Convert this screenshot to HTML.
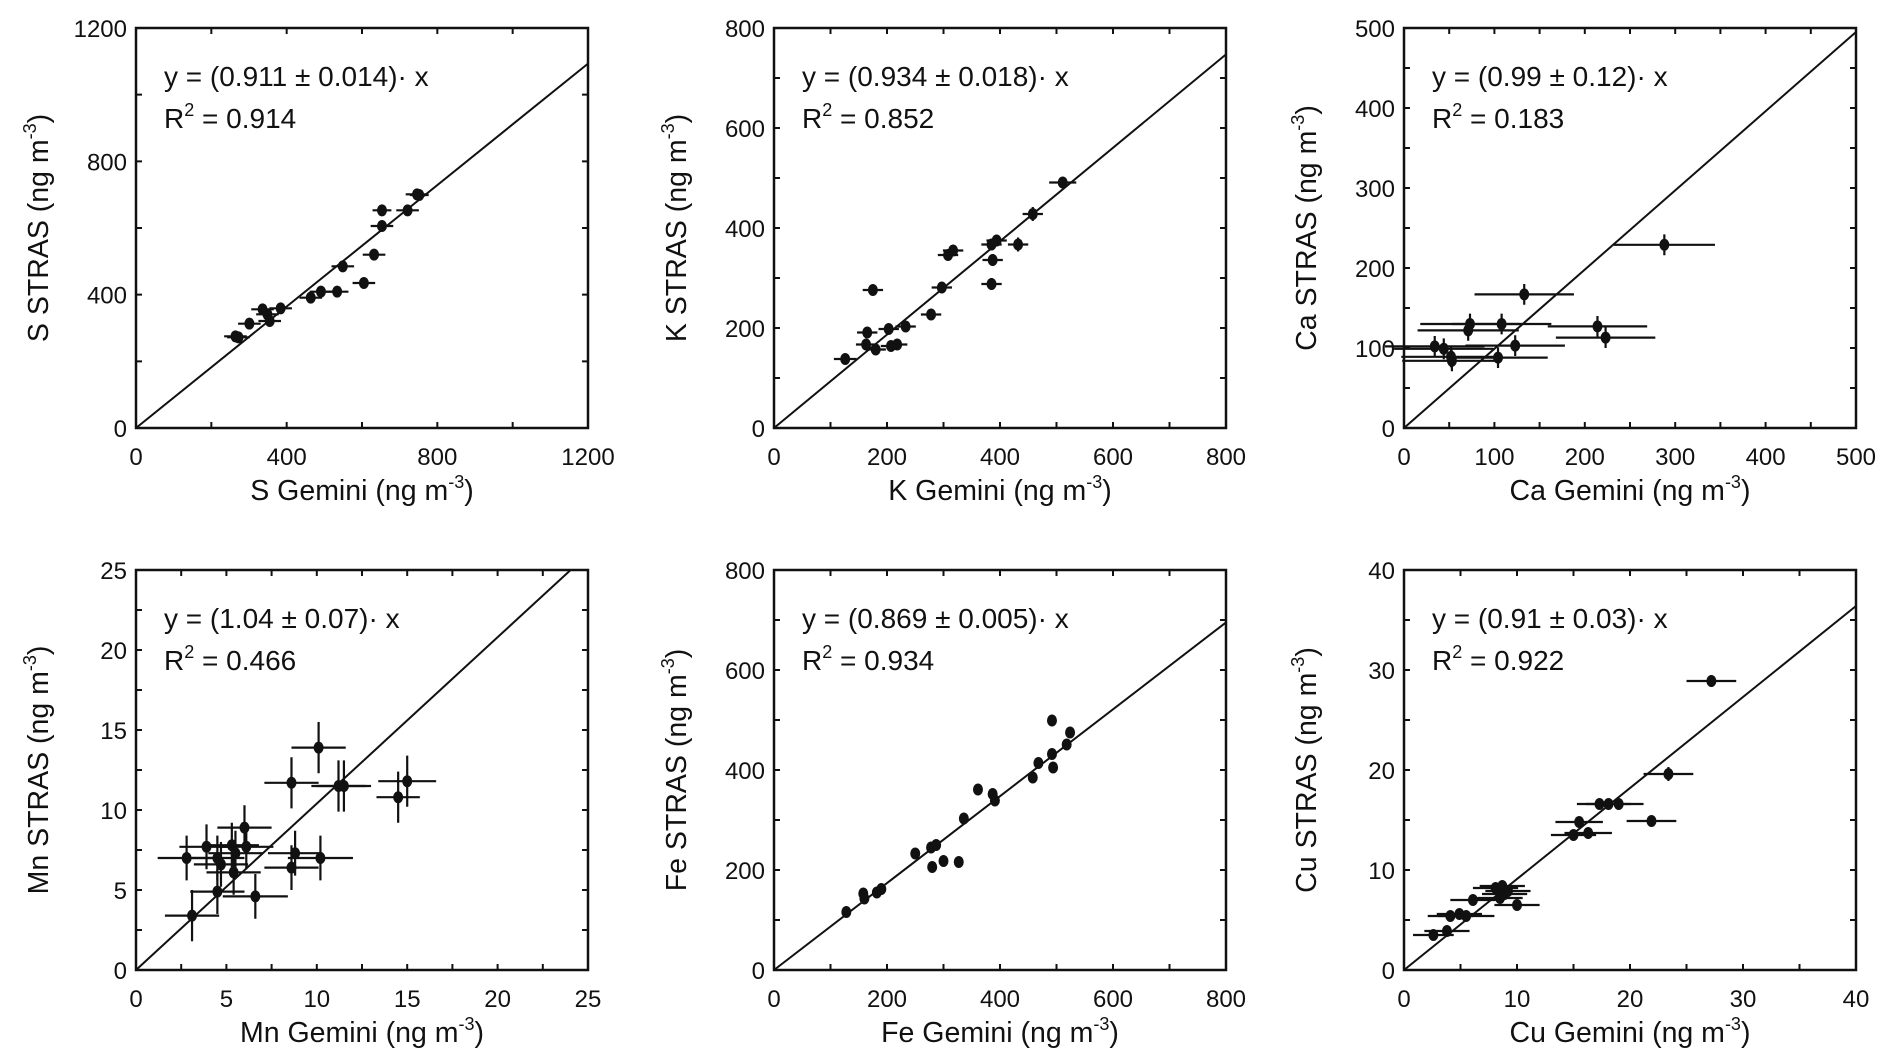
<!DOCTYPE html>
<html><head><meta charset="utf-8"><style>
html,body{margin:0;padding:0;background:#fff}
svg{display:block}
text{font-family:"Liberation Sans",Arial,sans-serif;fill:#111}
</style></head><body>
<svg id="chart" width="1892" height="1058" viewBox="0 0 1892 1058" xmlns="http://www.w3.org/2000/svg"></svg>
<script>
// ---- S ----
const sX = [264,272,301,336,349,355,384,464,491,534,549,605,632,653,653,721,746,752];
const sY = [275,272,313,356,341,321,359,391,409,409,485,435,520,653,606,653,701,699];
const sXerr = [30,30,30,30,30,30,30,30,30,30,30,30,30,25,30,30,30,25];
const sYerr = [12,12,12,12,12,12,12,12,12,12,12,12,12,12,12,12,14,14];
// ---- K ----
const kX = [126,175,165,163,180,203,207,218,233,278,297,308,317,385,387,385,394,432,458,511];
const kY = [138,276,191,167,157,198,164,167,203,227,281,346,355,288,336,367,375,367,428,491];
const kXerr = [20,18,18,18,18,18,18,18,18,18,18,18,18,18,18,18,18,18,18,24];
const kYerr = [10,10,10,10,10,10,10,10,10,10,10,10,10,12,12,12,12,14,14,8];
// ---- Ca ----
const caX = [288,133,73,71,108,214,223,123,34,44,52,53,104];
const caY = [229,167,130,122,130,127,113,103,102,99,89,84,88];
const caXerr = [56,55,55,56,55,55,55,55,55,55,55,55,55];
const caYerr = [13,13,13,13,13,13,13,13,13,13,13,13,13];
// ---- Mn ----
const mnX = [2.8,3.1,3.9,4.5,4.5,4.7,5.3,5.4,5.5,6.0,6.1,6.6,8.6,8.6,8.8,10.1,10.2,11.2,11.5,14.5,15.0];
const mnY = [7.0,3.4,7.7,4.9,7.0,6.6,7.8,6.1,7.3,8.9,7.7,4.6,11.7,6.4,7.3,13.9,7.0,11.5,11.5,10.8,11.8];
const mnXerr = [1.6,1.5,1.5,1.5,1.5,1.5,1.5,1.5,1.5,1.5,1.5,1.8,1.5,1.5,1.5,1.5,1.8,1.5,1.5,1.2,1.6];
const mnYerr = [1.4,1.6,1.4,1.4,1.4,1.4,1.4,1.4,1.4,1.4,1.4,1.4,1.6,1.4,1.4,1.6,1.4,1.6,1.6,1.6,1.6];
// ---- Fe ----
const feX = [128,158,160,182,190,250,278,287,280,300,327,336,361,387,391,458,468,492,494,492,518,524];
const feY = [116,153,143,155,162,233,245,250,206,218,216,303,361,352,339,385,414,432,405,499,451,475];
// ---- Cu ----
const cuX = [2.6,3.8,4.1,4.9,5.5,6.1,8.1,8.7,8.5,8.9,9.2,10.0,15.0,15.5,16.3,17.3,18.1,19.0,21.9,23.4,27.2];
const cuY = [3.5,3.9,5.4,5.6,5.4,7.0,8.2,8.4,7.2,7.6,7.9,6.5,13.5,14.8,13.7,16.6,16.6,16.6,14.9,19.6,28.9];
const cuXerr = [1.8,2.0,2.0,2.0,2.5,2.0,2.0,2.0,2.0,2.0,2.0,2.0,2.0,2.1,2.1,2.0,2.0,2.2,2.2,2.2,2.2];
const cuYerr = [0.4,0.4,0.4,0.4,0.4,0.4,0.4,0.5,0.4,0.4,0.4,0.4,0.5,0.5,0.5,0.5,0.5,0.5,0.5,0.7,0.6];

const sTicks = [0,400,800,1200];
const kTicks = [0,200,400,600,800];
const caTicks = [0,100,200,300,400,500];
const mnTicks = [0,5,10,15,20,25];
const feTicks = [0,200,400,600,800];
const cuTicks = [0,10,20,30,40];

const slopes = {S:0.911, K:0.934, Ca:0.99, Mn:1.04, Fe:0.869, Cu:0.91};
const fitText = {S:["0.911","0.014","0.914"],K:["0.934","0.018","0.852"],Ca:["0.99","0.12","0.183"],Mn:["1.04","0.07","0.466"],Fe:["0.869","0.005","0.934"],Cu:["0.91","0.03","0.922"]};

const NS = "http://www.w3.org/2000/svg";
const svg = document.getElementById('chart');
function mk(tag, attrs, parent){const e=document.createElementNS(NS,tag);for(const k in attrs)e.setAttribute(k,attrs[k]);(parent||svg).appendChild(e);return e;}

const W = 452, H = 400;
const panels = [
 {el:'S', left:136, top:28, ticks:sTicks, minor:200, x:sX, y:sY, xe:sXerr, ye:sYerr},
 {el:'K', left:774, top:28, ticks:kTicks, minor:100, x:kX, y:kY, xe:kXerr, ye:kYerr},
 {el:'Ca', left:1404, top:28, ticks:caTicks, minor:50, x:caX, y:caY, xe:caXerr, ye:caYerr},
 {el:'Mn', left:136, top:570, ticks:mnTicks, minor:2.5, x:mnX, y:mnY, xe:mnXerr, ye:mnYerr},
 {el:'Fe', left:774, top:570, ticks:feTicks, minor:100, x:feX, y:feY, xe:null, ye:null},
 {el:'Cu', left:1404, top:570, ticks:cuTicks, minor:5, x:cuX, y:cuY, xe:cuXerr, ye:cuYerr}
];

panels.forEach(p=>{
  const max = p.ticks[p.ticks.length-1];
  const xs = v => p.left + v/max*W;
  const ys = v => p.top + H - v/max*H;
  const g = mk('g',{});
  
  
  for(let v=0; v<=max+1e-9; v+=p.minor){
    const t1=mk('path',{d:`M${xs(v)},${p.top+H}v-6M${xs(v)},${p.top}v6M${p.left},${ys(v)}h6M${p.left+W},${ys(v)}h-6`,stroke:'#111','stroke-width':2,fill:'none'},g);
    
    
  }
  p.ticks.forEach(v=>{
    const tx=mk('text',{x:xs(v),y:p.top+H+37,'text-anchor':'middle','font-size':24},g);
    tx.textContent=v;
    
    
    const ty=mk('text',{x:p.left-9,y:ys(v)+9,'text-anchor':'end','font-size':24},g);
    ty.textContent=v;
    
    
  });
  const fr=mk('rect',{x:p.left,y:p.top,width:W,height:H,fill:'none',stroke:'#111','stroke-width':2.5},g);
  
  
  const s = slopes[p.el];
  let xe = max, ye = s*max;
  if(ye>max){ye=max; xe=max/s;}
  const ln=mk('line',{x1:xs(0),y1:ys(0),x2:xs(xe),y2:ys(ye),stroke:'#111','stroke-width':2},g);
  
  
  p.x.forEach((xv,i)=>{
    const yv=p.y[i];
    if(p.xe){
      const eb=mk('path',{d:`M${xs(xv-p.xe[i])},${ys(yv)}H${xs(xv+p.xe[i])}M${xs(xv)},${ys(yv-p.ye[i])}V${ys(yv+p.ye[i])}`,stroke:'#111','stroke-width':2.2,fill:'none'},g);
      
      
    }
    const c=mk('ellipse',{cx:xs(xv),cy:ys(yv),rx:5,ry:6,fill:'#111'},g);
    
    
  });
  const f = fitText[p.el];
  const a1=mk('text',{x:p.left+28,y:p.top+58,'font-size':28},g);
  a1.textContent=`y = (${f[0]} \u00b1 ${f[1]})\u00b7  x`;
  
  
  const a2=mk('text',{x:p.left+28,y:p.top+100,'font-size':28},g);
  
  
  a2.innerHTML=`R<tspan dy="-12" font-size="18">2</tspan><tspan dy="12"> = ${f[2]}</tspan>`;
  const xt=mk('text',{x:p.left+W/2,y:p.top+H+72,'text-anchor':'middle','font-size':28.5},g);
  
  
  xt.innerHTML=`${p.el} Gemini (ng m<tspan dy="-12" font-size="18">-3</tspan><tspan dy="12">)</tspan>`;
  const cx=p.left-88, cy=p.top+H/2;
  const yt=mk('text',{x:cx,y:cy,'text-anchor':'middle','font-size':28.5,transform:`rotate(-90 ${cx} ${cy})`},g);
  
  
  yt.innerHTML=`${p.el} STRAS (ng m<tspan dy="-12" font-size="18">-3</tspan><tspan dy="12">)</tspan>`;
});
</script>
</body></html>
